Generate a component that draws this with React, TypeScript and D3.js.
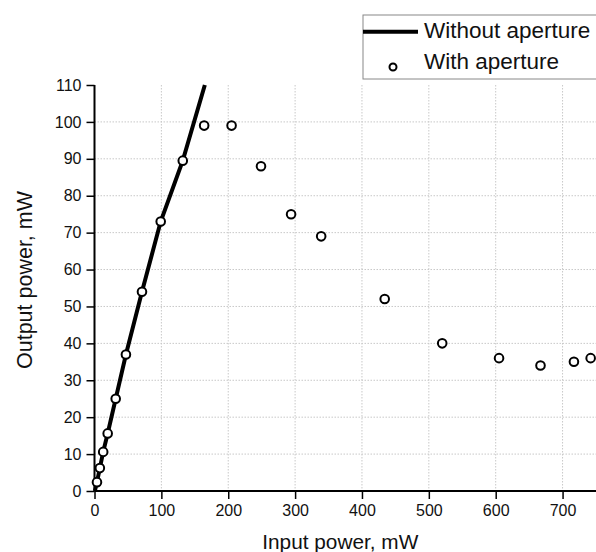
import { useEffect, useRef } from 'react';
import * as d3 from 'd3';

// Input power (mW) and output power (mW), with aperture
const inputWith = [3.7, 8, 13, 19.7, 31.7, 47, 71, 99, 132, 164, 205, 249, 294, 339, 434, 520, 605, 667, 717, 742];
const outputWith = [2.4, 6.2, 10.6, 15.6, 25, 37, 54, 73, 89.5, 99, 99, 88, 75, 69, 52, 40, 36, 34, 35, 36];

// Without aperture (straight rise)
const inputWithout = [0.5, 3.7, 8, 13, 19.7, 31.7, 47, 71, 99, 132, 165];
const outputWithout = [0, 2.4, 6.2, 10.6, 15.6, 25, 37, 54, 73, 89.5, 110];

const xTicks = [0, 100, 200, 300, 400, 500, 600, 700];
const yTicks = [0, 10, 20, 30, 40, 50, 60, 70, 80, 90, 100, 110];

const seriesNames = ['Without aperture', 'With aperture'];

export default function App() {
    const svgRef = useRef<SVGSVGElement>(null);

    useEffect(() => {
        const width = 596;
        const height = 552;
        const margin = { top: 85, right: 0, bottom: 61, left: 94.5 };
        const innerWidth = width - margin.left - margin.right;
        const innerHeight = height - margin.top - margin.bottom;
        const font = 'Liberation Sans, Arial, sans-serif';

        const svg = d3.select(svgRef.current);
        svg.selectAll('*').remove();
        svg.attr('width', width).attr('height', height);

        svg.append('rect').attr('width', width).attr('height', height).attr('fill', '#fff');

        const g = svg.append('g').attr('transform', `translate(${margin.left},${margin.top})`);

        const x = d3.scaleLinear().domain([0, 750]).range([0, innerWidth]);
        const y = d3.scaleLinear().domain([0, 110]).range([innerHeight, 0]);

        // Grid
        g.append('g')
            .selectAll('line')
            .data(xTicks.slice(1))
            .enter()
            .append('line')
            .attr('x1', (d) => x(d))
            .attr('x2', (d) => x(d))
            .attr('y1', 0)
            .attr('y2', innerHeight)
            .attr('stroke', '#c8c8c8')
            .attr('stroke-dasharray', '1.5,1.5');

        g.append('g')
            .selectAll('line')
            .data(yTicks.slice(1, -1))
            .enter()
            .append('line')
            .attr('x1', 0)
            .attr('x2', innerWidth)
            .attr('y1', (d) => y(d))
            .attr('y2', (d) => y(d))
            .attr('stroke', '#c8c8c8')
            .attr('stroke-dasharray', '1.5,1.5');

        // X axis
        const xAxis = g.append('g').attr('transform', `translate(0,${innerHeight})`);
        xAxis.call(d3.axisBottom(x).tickValues(d3.range(50, 750, 100)).tickSize(5).tickFormat(() => ''));
        xAxis.call(d3.axisBottom(x).tickValues(xTicks).tickSize(8).tickPadding(6).tickFormat((d) => `${d}`));
        xAxis.selectAll('path').remove();
        xAxis.append('line').attr('x1', 0).attr('x2', innerWidth).attr('stroke', '#000').attr('stroke-width', 2);
        xAxis.selectAll('.tick line').attr('stroke-width', 1.5);
        xAxis.selectAll('text').style('font-family', font).style('font-size', '16px').attr('fill', '#111');

        // Y axis
        const yAxis = g.append('g');
        yAxis.call(d3.axisLeft(y).tickValues(d3.range(5, 110, 10)).tickSize(5).tickFormat(() => ''));
        yAxis.call(d3.axisLeft(y).tickValues(yTicks).tickSize(8).tickPadding(5).tickFormat((d) => `${d}`));
        yAxis.selectAll('path').remove();
        yAxis.append('line').attr('y1', 0).attr('y2', innerHeight).attr('stroke', '#000').attr('stroke-width', 2);
        yAxis.selectAll('.tick line').attr('stroke-width', 1.5);
        yAxis.selectAll('text').style('font-family', font).style('font-size', '16px').attr('fill', '#111');

        // Axis titles
        svg.append('text')
            .attr('x', margin.left + x(375) - 5)
            .attr('y', 549)
            .attr('text-anchor', 'middle')
            .style('font-family', font)
            .style('font-size', '20.8px')
            .attr('fill', '#111')
            .text('Input power, mW');

        svg.append('text')
            .attr('transform', `translate(32,${margin.top + y(55) - 8}) rotate(-90)`)
            .attr('text-anchor', 'middle')
            .style('font-family', font)
            .style('font-size', '21.5px')
            .attr('fill', '#111')
            .text('Output power, mW');

        // Line without aperture
        const lineData = inputWithout.map((d, i) => [d, outputWithout[i]] as [number, number]);
        g.append('path')
            .datum(lineData)
            .attr('fill', 'none')
            .attr('stroke', '#000')
            .attr('stroke-width', 4)
            .attr('d', d3.line<[number, number]>().x((d) => x(d[0])).y((d) => y(d[1])));

        // Points with aperture
        g.selectAll('.pt')
            .data(inputWith.map((d, i) => [d, outputWith[i]]))
            .enter()
            .append('circle')
            .attr('class', 'pt')
            .attr('cx', (d) => x(d[0]))
            .attr('cy', (d) => y(d[1]))
            .attr('r', 4.3)
            .attr('fill', '#fff')
            .attr('stroke', '#000')
            .attr('stroke-width', 2);

        // Legend
        const lg = svg.append('g').attr('transform', 'translate(363,15)');
        lg.append('rect')
            .attr('width', 240)
            .attr('height', 64)
            .attr('fill', '#fff')
            .attr('stroke', '#888')
            .attr('stroke-width', 1);
        lg.append('line')
            .attr('x1', 0)
            .attr('x2', 55)
            .attr('y1', 16.7)
            .attr('y2', 16.7)
            .attr('stroke', '#000')
            .attr('stroke-width', 4);
        lg.append('circle')
            .attr('cx', 30)
            .attr('cy', 52)
            .attr('r', 3.5)
            .attr('fill', '#fff')
            .attr('stroke', '#000')
            .attr('stroke-width', 2);
        lg.selectAll('.lt')
            .data(seriesNames)
            .enter()
            .append('text')
            .attr('class', 'lt')
            .attr('x', 61)
            .attr('y', (d, i) => 23 + i * 31)
            .style('font-family', font)
            .style('font-size', '22.5px')
            .attr('fill', '#111')
            .text((d) => d);
    }, []);

    return (
        <div style={{ position: 'absolute', left: 0, top: 0 }}>
            <svg ref={svgRef}></svg>
        </div>
    );
}
